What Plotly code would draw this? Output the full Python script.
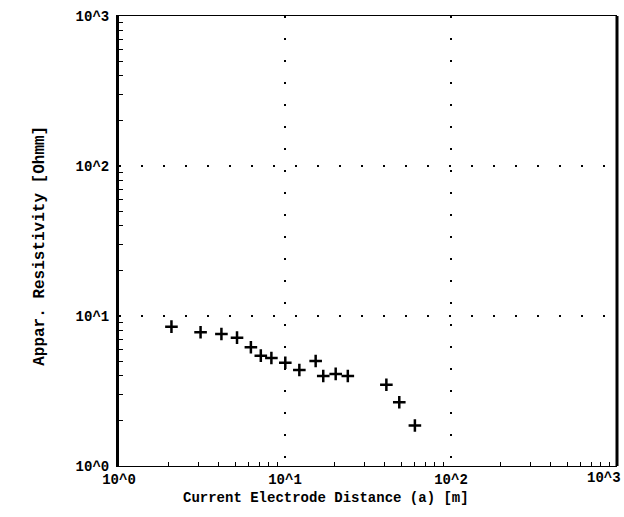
import plotly.graph_objects as go

# Data (log-log sounding curve)
distance_m = [2.07, 3.10, 4.14, 5.14, 6.23, 7.15, 8.28, 10.04, 12.2, 15.3,
              17.0, 20.2, 23.9, 40.8, 48.8, 60.6]
app_resistivity = [8.49, 7.79, 7.59, 7.17, 6.19, 5.44, 5.25, 4.88, 4.37, 5.01,
                   3.98, 4.11, 3.98, 3.48, 2.66, 1.86]

tick_vals = [1, 10, 100, 1000]
tick_text = ["10^0", "10^1", "10^2", "10^3"]

FONT = "Liberation Mono"
TICKFONT = dict(family=FONT, size=14, color="black", weight="bold")

fig = go.Figure()
fig.add_trace(go.Scatter(
    x=distance_m, y=app_resistivity, mode="markers",
    marker=dict(symbol="cross-thin", size=9, color="black",
                line=dict(color="black", width=2.5)),
    showlegend=False,
))

axis_common = dict(
    type="log", range=[0, 3],
    tickvals=tick_vals,
    showgrid=True, gridcolor="black", gridwidth=2, griddash="2px,20px",
    zeroline=False, ticks="", automargin=False,
    tickfont=TICKFONT,
    minor=dict(ticks="inside", ticklen=4, tickcolor="black",
               tickvals=[v * m for v in [1, 10, 100] for m in range(2, 10)],
               showgrid=False),
)

# last x label is placed separately (right-aligned) so it stays inside the page
x_tick_text = tick_text[:-1] + [""]
fig.update_xaxes(**axis_common, ticktext=x_tick_text, showline=True,
                 linecolor="black", linewidth=1, mirror=True,
                 ticklabelstandoff=0)
fig.update_yaxes(**axis_common, ticktext=tick_text, showline=True,
                 linecolor="black", linewidth=3, ticklabelstandoff=4)

fig.add_annotation(text=tick_text[-1], x=3, xref="x", y=0, yref="paper",
                   xanchor="right", yanchor="top", xshift=6, yshift=-2,
                   showarrow=False, font=TICKFONT)

# thicker right border, as in the reference frame
fig.add_shape(type="line", xref="paper", yref="paper", x0=1, x1=1, y0=0, y1=1,
              line=dict(color="black", width=3))

fig.add_annotation(text="Current Electrode Distance (a) [m]",
                   xref="paper", yref="paper", x=0.415, y=-0.048,
                   xanchor="center", yanchor="top", showarrow=False,
                   font=dict(family=FONT, size=14, color="black", weight="bold"))
fig.add_annotation(text="Appar. Resistivity [Ohmm]",
                   xref="paper", yref="paper", x=-0.16, y=0.49,
                   xanchor="center", yanchor="middle", showarrow=False,
                   textangle=-90,
                   font=dict(family=FONT, size=16, color="black", weight="bold"))

fig.update_layout(
    width=624, height=517,
    margin=dict(l=119, r=7, t=16, b=51),
    plot_bgcolor="white", paper_bgcolor="white",
    font=dict(family=FONT, color="black"),
)

fig.write_html("out.html")
